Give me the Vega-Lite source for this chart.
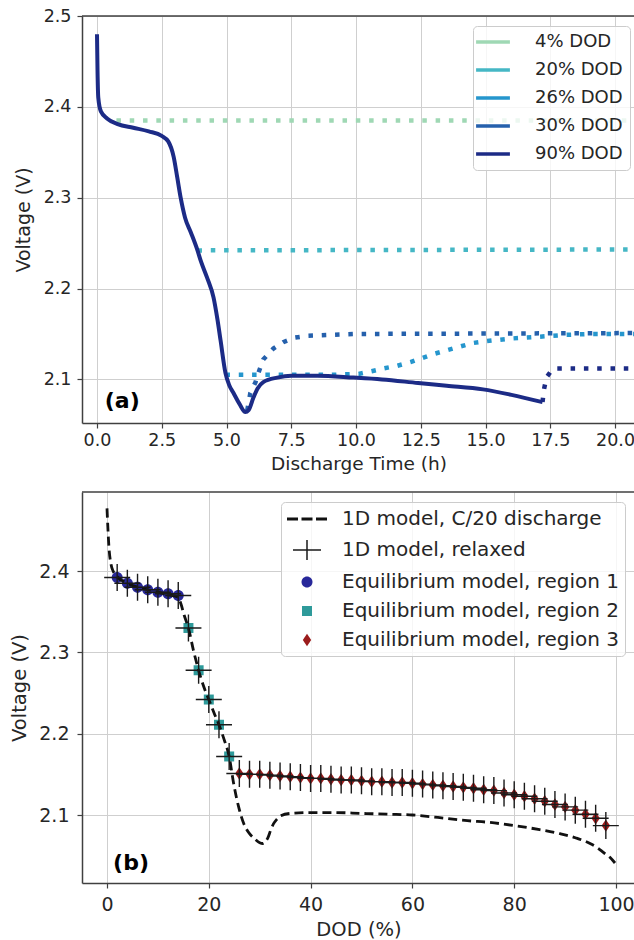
{
  "$schema": "https://vega.github.io/schema/vega-lite/v6.json",
  "padding": {"left": 9, "top": 7, "right": 0, "bottom": 0},
  "spacing": 18,
  "config": {
    "font": "DejaVu Sans",
    "view": {"stroke": null},
    "axis": {
      "domainColor": "#404040", "domainWidth": 1.5,
      "tickColor": "#404040", "tickWidth": 1.2, "tickSize": 5,
      "gridColor": "#cfcfcf", "gridWidth": 1,
      "labelColor": "#262626", "titleColor": "#262626",
      "titleFontWeight": "normal", "labelFlush": false, "labelOverlap": false
    }
  },
  "datasets": {
    "discharge": [
      {"t": 0, "v": 2.48}, {"t": 0.02, "v": 2.44}, {"t": 0.05, "v": 2.41}, {"t": 0.15, "v": 2.395},
      {"t": 0.4, "v": 2.387}, {"t": 0.8, "v": 2.381}, {"t": 1.4, "v": 2.377}, {"t": 2.0, "v": 2.373},
      {"t": 2.5, "v": 2.368}, {"t": 2.75, "v": 2.362}, {"t": 2.96, "v": 2.345}, {"t": 3.1, "v": 2.322},
      {"t": 3.23, "v": 2.3}, {"t": 3.4, "v": 2.278}, {"t": 3.62, "v": 2.262}, {"t": 3.88, "v": 2.242},
      {"t": 4.0, "v": 2.231}, {"t": 4.25, "v": 2.212}, {"t": 4.5, "v": 2.19}, {"t": 4.65, "v": 2.166},
      {"t": 4.77, "v": 2.143}, {"t": 4.96, "v": 2.107}, {"t": 5.1, "v": 2.094}, {"t": 5.27, "v": 2.085},
      {"t": 5.5, "v": 2.073}, {"t": 5.73, "v": 2.064}, {"t": 5.85, "v": 2.066}, {"t": 6.04, "v": 2.08},
      {"t": 6.2, "v": 2.09}, {"t": 6.42, "v": 2.097}, {"t": 6.96, "v": 2.102}, {"t": 7.5, "v": 2.104},
      {"t": 8.5, "v": 2.104}, {"t": 9.9, "v": 2.102}, {"t": 11.0, "v": 2.1}, {"t": 12.4, "v": 2.096},
      {"t": 13.5, "v": 2.093}, {"t": 14.9, "v": 2.089}, {"t": 16.0, "v": 2.083}, {"t": 17.2, "v": 2.075}
    ],
    "relax": [
      {"dod": "4% DOD", "t": 0.75, "v": 2.385}, {"dod": "4% DOD", "t": 20.8, "v": 2.385},
      {"dod": "20% DOD", "t": 3.88, "v": 2.242}, {"dod": "20% DOD", "t": 20.8, "v": 2.243},
      {"dod": "26% DOD", "t": 4.96, "v": 2.105}, {"dod": "26% DOD", "t": 7.0, "v": 2.105},
      {"dod": "26% DOD", "t": 9.0, "v": 2.105}, {"dod": "26% DOD", "t": 10.1, "v": 2.106},
      {"dod": "26% DOD", "t": 10.6, "v": 2.109}, {"dod": "26% DOD", "t": 11.05, "v": 2.112},
      {"dod": "26% DOD", "t": 11.6, "v": 2.115}, {"dod": "26% DOD", "t": 12.1, "v": 2.119},
      {"dod": "26% DOD", "t": 12.6, "v": 2.124}, {"dod": "26% DOD", "t": 13.0, "v": 2.128},
      {"dod": "26% DOD", "t": 13.5, "v": 2.132}, {"dod": "26% DOD", "t": 14.0, "v": 2.136},
      {"dod": "26% DOD", "t": 14.5, "v": 2.14}, {"dod": "26% DOD", "t": 15.0, "v": 2.142},
      {"dod": "26% DOD", "t": 16.0, "v": 2.145}, {"dod": "26% DOD", "t": 17.1, "v": 2.147},
      {"dod": "26% DOD", "t": 18.1, "v": 2.149}, {"dod": "26% DOD", "t": 19.0, "v": 2.15},
      {"dod": "26% DOD", "t": 20.8, "v": 2.15},
      {"dod": "30% DOD", "t": 5.8, "v": 2.066}, {"dod": "30% DOD", "t": 5.92, "v": 2.085},
      {"dod": "30% DOD", "t": 6.12, "v": 2.097}, {"dod": "30% DOD", "t": 6.23, "v": 2.107},
      {"dod": "30% DOD", "t": 6.42, "v": 2.122}, {"dod": "30% DOD", "t": 6.81, "v": 2.134},
      {"dod": "30% DOD", "t": 7.19, "v": 2.141}, {"dod": "30% DOD", "t": 7.65, "v": 2.146},
      {"dod": "30% DOD", "t": 8.15, "v": 2.148}, {"dod": "30% DOD", "t": 10.0, "v": 2.15},
      {"dod": "30% DOD", "t": 20.8, "v": 2.151},
      {"dod": "90% DOD", "t": 17.2, "v": 2.075}, {"dod": "90% DOD", "t": 17.25, "v": 2.088},
      {"dod": "90% DOD", "t": 17.35, "v": 2.102}, {"dod": "90% DOD", "t": 17.55, "v": 2.11},
      {"dod": "90% DOD", "t": 17.7, "v": 2.112}, {"dod": "90% DOD", "t": 20.8, "v": 2.112}
    ],
    "dashed": [
      {"dod": 0, "v": 2.477}, {"dod": 0.4, "v": 2.428}, {"dod": 0.8, "v": 2.408}, {"dod": 1.2, "v": 2.4},
      {"dod": 2, "v": 2.393}, {"dod": 4, "v": 2.385}, {"dod": 6, "v": 2.38}, {"dod": 8, "v": 2.377},
      {"dod": 10, "v": 2.374}, {"dod": 12, "v": 2.371}, {"dod": 14, "v": 2.368}, {"dod": 14.5, "v": 2.36},
      {"dod": 15.2, "v": 2.345}, {"dod": 16, "v": 2.33}, {"dod": 17, "v": 2.302}, {"dod": 18, "v": 2.278},
      {"dod": 19, "v": 2.258}, {"dod": 20, "v": 2.242}, {"dod": 21, "v": 2.226}, {"dod": 22, "v": 2.211},
      {"dod": 23, "v": 2.193}, {"dod": 24, "v": 2.172}, {"dod": 24.9, "v": 2.138}, {"dod": 25.9, "v": 2.109},
      {"dod": 26.9, "v": 2.089}, {"dod": 28, "v": 2.077}, {"dod": 28.8, "v": 2.072}, {"dod": 30, "v": 2.066},
      {"dod": 30.6, "v": 2.065}, {"dod": 31.2, "v": 2.068}, {"dod": 31.6, "v": 2.072}, {"dod": 32.2, "v": 2.082},
      {"dod": 32.7, "v": 2.089}, {"dod": 33.4, "v": 2.095}, {"dod": 34.1, "v": 2.099}, {"dod": 36.1, "v": 2.102},
      {"dod": 40, "v": 2.103}, {"dod": 45, "v": 2.103}, {"dod": 50, "v": 2.102}, {"dod": 55, "v": 2.101},
      {"dod": 60, "v": 2.1}, {"dod": 65, "v": 2.097}, {"dod": 70.8, "v": 2.093}, {"dod": 75, "v": 2.091},
      {"dod": 80, "v": 2.087}, {"dod": 85, "v": 2.082}, {"dod": 89, "v": 2.077}, {"dod": 92, "v": 2.072},
      {"dod": 94.9, "v": 2.065}, {"dod": 96.5, "v": 2.059}, {"dod": 97.5, "v": 2.054}, {"dod": 98.8, "v": 2.048},
      {"dod": 99.8, "v": 2.041}
    ],
    "pts": [
      {"dod": 2, "v": 2.392, "region": "Equilibrium model, region 1", "series": "1D model, relaxed"},
      {"dod": 4, "v": 2.385, "region": "Equilibrium model, region 1", "series": "1D model, relaxed"},
      {"dod": 6, "v": 2.38, "region": "Equilibrium model, region 1", "series": "1D model, relaxed"},
      {"dod": 8, "v": 2.377, "region": "Equilibrium model, region 1", "series": "1D model, relaxed"},
      {"dod": 10, "v": 2.374, "region": "Equilibrium model, region 1", "series": "1D model, relaxed"},
      {"dod": 12, "v": 2.372, "region": "Equilibrium model, region 1", "series": "1D model, relaxed"},
      {"dod": 14, "v": 2.37, "region": "Equilibrium model, region 1", "series": "1D model, relaxed"},
      {"dod": 16, "v": 2.33, "region": "Equilibrium model, region 2", "series": "1D model, relaxed"},
      {"dod": 18, "v": 2.278, "region": "Equilibrium model, region 2", "series": "1D model, relaxed"},
      {"dod": 20, "v": 2.242, "region": "Equilibrium model, region 2", "series": "1D model, relaxed"},
      {"dod": 22, "v": 2.211, "region": "Equilibrium model, region 2", "series": "1D model, relaxed"},
      {"dod": 24, "v": 2.172, "region": "Equilibrium model, region 2", "series": "1D model, relaxed"},
      {"dod": 26, "v": 2.151, "region": "Equilibrium model, region 3", "series": "1D model, relaxed"},
      {"dod": 28, "v": 2.15, "region": "Equilibrium model, region 3", "series": "1D model, relaxed"},
      {"dod": 30, "v": 2.15, "region": "Equilibrium model, region 3", "series": "1D model, relaxed"},
      {"dod": 32, "v": 2.149, "region": "Equilibrium model, region 3", "series": "1D model, relaxed"},
      {"dod": 34, "v": 2.148, "region": "Equilibrium model, region 3", "series": "1D model, relaxed"},
      {"dod": 36, "v": 2.147, "region": "Equilibrium model, region 3", "series": "1D model, relaxed"},
      {"dod": 38, "v": 2.146, "region": "Equilibrium model, region 3", "series": "1D model, relaxed"},
      {"dod": 40, "v": 2.145, "region": "Equilibrium model, region 3", "series": "1D model, relaxed"},
      {"dod": 42, "v": 2.145, "region": "Equilibrium model, region 3", "series": "1D model, relaxed"},
      {"dod": 44, "v": 2.144, "region": "Equilibrium model, region 3", "series": "1D model, relaxed"},
      {"dod": 46, "v": 2.143, "region": "Equilibrium model, region 3", "series": "1D model, relaxed"},
      {"dod": 48, "v": 2.143, "region": "Equilibrium model, region 3", "series": "1D model, relaxed"},
      {"dod": 50, "v": 2.142, "region": "Equilibrium model, region 3", "series": "1D model, relaxed"},
      {"dod": 52, "v": 2.141, "region": "Equilibrium model, region 3", "series": "1D model, relaxed"},
      {"dod": 54, "v": 2.141, "region": "Equilibrium model, region 3", "series": "1D model, relaxed"},
      {"dod": 56, "v": 2.14, "region": "Equilibrium model, region 3", "series": "1D model, relaxed"},
      {"dod": 58, "v": 2.14, "region": "Equilibrium model, region 3", "series": "1D model, relaxed"},
      {"dod": 60, "v": 2.139, "region": "Equilibrium model, region 3", "series": "1D model, relaxed"},
      {"dod": 62, "v": 2.138, "region": "Equilibrium model, region 3", "series": "1D model, relaxed"},
      {"dod": 64, "v": 2.137, "region": "Equilibrium model, region 3", "series": "1D model, relaxed"},
      {"dod": 66, "v": 2.136, "region": "Equilibrium model, region 3", "series": "1D model, relaxed"},
      {"dod": 68, "v": 2.135, "region": "Equilibrium model, region 3", "series": "1D model, relaxed"},
      {"dod": 70, "v": 2.134, "region": "Equilibrium model, region 3", "series": "1D model, relaxed"},
      {"dod": 72, "v": 2.133, "region": "Equilibrium model, region 3", "series": "1D model, relaxed"},
      {"dod": 74, "v": 2.131, "region": "Equilibrium model, region 3", "series": "1D model, relaxed"},
      {"dod": 76, "v": 2.13, "region": "Equilibrium model, region 3", "series": "1D model, relaxed"},
      {"dod": 78, "v": 2.127, "region": "Equilibrium model, region 3", "series": "1D model, relaxed"},
      {"dod": 80, "v": 2.125, "region": "Equilibrium model, region 3", "series": "1D model, relaxed"},
      {"dod": 82, "v": 2.123, "region": "Equilibrium model, region 3", "series": "1D model, relaxed"},
      {"dod": 84, "v": 2.12, "region": "Equilibrium model, region 3", "series": "1D model, relaxed"},
      {"dod": 86, "v": 2.117, "region": "Equilibrium model, region 3", "series": "1D model, relaxed"},
      {"dod": 88, "v": 2.113, "region": "Equilibrium model, region 3", "series": "1D model, relaxed"},
      {"dod": 90, "v": 2.11, "region": "Equilibrium model, region 3", "series": "1D model, relaxed"},
      {"dod": 92, "v": 2.106, "region": "Equilibrium model, region 3", "series": "1D model, relaxed"},
      {"dod": 94, "v": 2.101, "region": "Equilibrium model, region 3", "series": "1D model, relaxed"},
      {"dod": 96, "v": 2.096, "region": "Equilibrium model, region 3", "series": "1D model, relaxed"},
      {"dod": 98, "v": 2.087, "region": "Equilibrium model, region 3", "series": "1D model, relaxed"}
    ]
  },
  "vconcat": [
    {
      "width": 553,
      "height": 407,
      "layer": [
        {
          "data": {"name": "relax"},
          "mark": {"type": "line", "strokeWidth": 4.5, "strokeDash": [4.5, 8.8], "clip": true},
          "encoding": {
            "x": {"field": "t", "type": "quantitative",
              "scale": {"domain": [-0.579, 20.77], "nice": false, "zero": false},
              "axis": {"values": [0, 2.5, 5, 7.5, 10, 12.5, 15, 17.5, 20], "format": ".1f",
                "title": "Discharge Time (h)", "labelFontSize": 17.5, "titleFontSize": 18.5,
                "labelPadding": 3, "titlePadding": 6}},
            "y": {"field": "v", "type": "quantitative",
              "scale": {"domain": [2.052, 2.5], "nice": false, "zero": false},
              "axis": {"values": [2.1, 2.2, 2.3, 2.4, 2.5], "format": ".1f",
                "title": "Voltage (V)", "labelFontSize": 17.5, "titleFontSize": 19,
                "labelPadding": 6, "titlePadding": 10}},
            "color": {"field": "dod", "type": "nominal",
              "scale": {"domain": ["4% DOD", "20% DOD", "26% DOD", "30% DOD", "90% DOD"],
                "range": ["#9fd8b4", "#45b7c5", "#2596cd", "#2560ac", "#1c2b86"]},
              "legend": {"orient": "none", "legendX": 391, "legendY": 10, "title": null,
                "symbolType": "M-3.3,0H3.3", "symbolSize": 105, "symbolStrokeWidth": 3.5, "symbolOffset": 4,
                "labelFontSize": 18, "labelColor": "#262626", "labelOffset": 33, "labelLimit": 300,
                "rowPadding": 10, "padding": 7,
                "fillColor": "rgba(255,255,255,0.8)", "strokeColor": "#cccccc", "cornerRadius": 4}}
          }
        },
        {
          "data": {"name": "discharge"},
          "mark": {"type": "line", "color": "#1c2b86", "strokeWidth": 4, "interpolate": "monotone", "clip": true},
          "encoding": {
            "x": {"field": "t", "type": "quantitative"},
            "y": {"field": "v", "type": "quantitative"}
          }
        },
        {
          "data": {"values": [{"t": 0.3, "v": 2.068, "label": "(a)"}]},
          "mark": {"type": "text", "align": "left", "baseline": "alphabetic", "fontSize": 22, "fontWeight": "bold", "color": "#000000"},
          "encoding": {
            "x": {"field": "t", "type": "quantitative"},
            "y": {"field": "v", "type": "quantitative"},
            "text": {"field": "label"}
          }
        },
        {
          "data": {"values": [{"top": 2.5}]},
          "mark": {"type": "rule", "color": "#404040", "strokeWidth": 1.5},
          "encoding": {
            "y": {"field": "top", "type": "quantitative"}
          }
        }
      ]
    },
    {
      "width": 553,
      "height": 391,
      "layer": [
        {
          "data": {"name": "pts"},
          "mark": {"type": "point", "filled": true, "size": 400, "opacity": 1},
          "encoding": {
            "x": {"field": "dod", "type": "quantitative",
              "scale": {"domain": [-4.91, 103.73], "nice": false, "zero": false},
              "axis": {"values": [0, 20, 40, 60, 80, 100], "format": "d",
                "title": "DOD (%)", "labelFontSize": 19, "titleFontSize": 19.5,
                "labelPadding": 7, "titlePadding": 6}},
            "y": {"field": "v", "type": "quantitative",
              "scale": {"domain": [2.0164, 2.4972], "nice": false, "zero": false},
              "axis": {"values": [2.1, 2.2, 2.3, 2.4], "format": ".1f",
                "title": "Voltage (V)", "labelFontSize": 19, "titleFontSize": 19.5,
                "labelPadding": 8, "titlePadding": 9}},
            "fill": {"field": "region", "type": "nominal",
              "scale": {"domain": ["1D model, C/20 discharge", "1D model, relaxed", "Equilibrium model, region 1", "Equilibrium model, region 2", "Equilibrium model, region 3"],
                "range": ["#111111", "transparent", "#28289a", "#2e9a9a", "#9b1c1c"]},
              "legend": {"orient": "none", "legendX": 199, "legendY": 486, "title": null,
                "symbolSize": 400, "symbolStrokeWidth": 1.5, "symbolStrokeColor": "#1a1a1a", "symbolOffset": 9,
                "labelFontSize": 20, "labelColor": "#262626", "labelOffset": 24, "labelLimit": 400,
                "rowPadding": 8, "padding": 6,
                "fillColor": "rgba(255,255,255,0.8)", "strokeColor": "#cccccc", "cornerRadius": 4}},
            "shape": {"field": "region", "type": "nominal",
              "scale": {"domain": ["1D model, C/20 discharge", "1D model, relaxed", "Equilibrium model, region 1", "Equilibrium model, region 2", "Equilibrium model, region 3"],
                "range": ["M-2,-0.15H-0.9V0.15H-2Z M-0.55,-0.15H0.55V0.15H-0.55Z M0.9,-0.15H2V0.15H0.9Z", "M-1.4,0H1.4M0,-1V1", "M0.55,0A0.55,0.55 0 1,1 -0.55,0A0.55,0.55 0 1,1 0.55,0Z", "M-0.5,-0.5H0.5V0.5H-0.5Z", "M0,-0.62L0.42,0L0,0.62L-0.42,0Z"]}}
          }
        },
        {
          "data": {"name": "dashed"},
          "mark": {"type": "line", "color": "#111111", "strokeWidth": 2.8, "strokeDash": [9, 5], "interpolate": "monotone"},
          "encoding": {
            "x": {"field": "dod", "type": "quantitative"},
            "y": {"field": "v", "type": "quantitative"}
          }
        },
        {
          "data": {"name": "pts"},
          "mark": {"type": "point", "filled": false, "shape": "M-1.3,0H1.3M0,-1.35V1.35", "size": 400, "strokeWidth": 1.4, "opacity": 1},
          "encoding": {
            "x": {"field": "dod", "type": "quantitative"},
            "y": {"field": "v", "type": "quantitative"},
            "stroke": {"field": "series", "type": "nominal",
              "scale": {"domain": ["1D model, C/20 discharge", "1D model, relaxed", "Equilibrium model, region 1", "Equilibrium model, region 2", "Equilibrium model, region 3"],
                "range": ["transparent", "#1a1a1a", "transparent", "transparent", "transparent"]}}
          }
        },
        {
          "data": {"values": [{"dod": 1.2, "v": 2.032, "label": "(b)"}]},
          "mark": {"type": "text", "align": "left", "baseline": "alphabetic", "fontSize": 22, "fontWeight": "bold", "color": "#000000"},
          "encoding": {
            "x": {"field": "dod", "type": "quantitative"},
            "y": {"field": "v", "type": "quantitative"},
            "text": {"field": "label"}
          }
        },
        {
          "data": {"values": [{"top": 2.4972}]},
          "mark": {"type": "rule", "color": "#404040", "strokeWidth": 1.5},
          "encoding": {
            "y": {"field": "top", "type": "quantitative"}
          }
        }
      ]
    }
  ]
}
